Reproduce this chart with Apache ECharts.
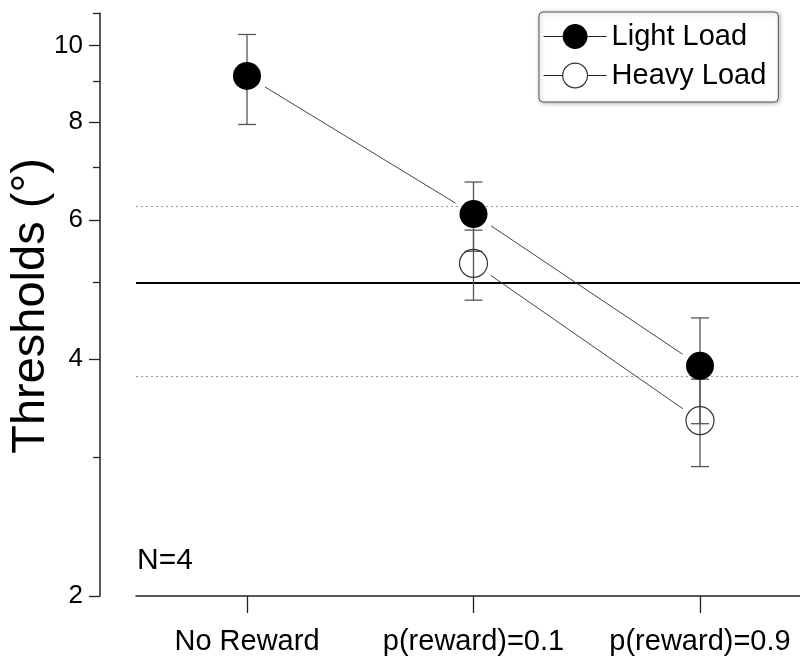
<!DOCTYPE html>
<html>
<head>
<meta charset="utf-8">
<script src="https://cdn.jsdelivr.net/npm/echarts@6/dist/echarts.min.js"></script>
<style>html,body{margin:0;padding:0;background:#fff}#chart{width:800px;height:657px}</style>
</head>
<body>
<div id="chart"></div>
<script>
// ---- data ----
const categories = ['No Reward', 'p(reward)=0.1', 'p(reward)=0.9'];
const lightMean = [9.15, 6.11, 3.92];
const lightLow  = [7.94, 5.48, 3.31];
const lightHigh = [10.33, 6.71, 4.51];
const heavyMean = [null, 5.29, 3.34];
const heavyLow  = [null, 4.75, 2.92];
const heavyHigh = [null, 5.83, 3.77];
const yMajorTicks = [2, 4, 6, 8, 10];
const yMinorTicks = [3, 5, 7, 9, 11];
const yRange = [2, 11];
const refSolid = [5];
const refDotted = [6.25, 3.80];
const sampleNote = 'N=4';
const yTitle = 'Thresholds (°)';

const FONT = '"Liberation Sans", Arial, Helvetica, sans-serif';

function points(mean) {
  const out = [];
  mean.forEach((v, i) => { if (v != null) out.push([i, v]); });
  return out;
}
function segments(mean) {
  const pts = points(mean), out = [];
  for (let i = 0; i + 1 < pts.length; i++) out.push([pts[i][0], pts[i][1], pts[i + 1][0], pts[i + 1][1]]);
  return out;
}
function bars(low, high) {
  const out = [];
  low.forEach((v, i) => { if (v != null) out.push([i, v, high[i]]); });
  return out;
}

function connectorItem(params, api) {
  const a = api.coord([api.value(0), api.value(1)]);
  const b = api.coord([api.value(2), api.value(3)]);
  const dx = b[0] - a[0], dy = b[1] - a[1], L = Math.hypot(dx, dy), g = 21;
  return {
    type: 'line',
    shape: { x1: a[0] + dx / L * g, y1: a[1] + dy / L * g, x2: b[0] - dx / L * g, y2: b[1] - dy / L * g },
    style: { stroke: '#444', lineWidth: 1 }
  };
}
function errorItem(params, api) {
  const x = api.value(0);
  const top = api.coord([x, api.value(2)]);
  const bot = api.coord([x, api.value(1)]);
  const hw = 9;
  const st = { stroke: '#555', lineWidth: 1.3 };
  return {
    type: 'group',
    children: [
      { type: 'line', shape: { x1: top[0], y1: top[1], x2: bot[0], y2: bot[1] }, style: st },
      { type: 'line', shape: { x1: top[0] - hw, y1: top[1], x2: top[0] + hw, y2: top[1] }, style: st },
      { type: 'line', shape: { x1: bot[0] - hw, y1: bot[1], x2: bot[0] + hw, y2: bot[1] }, style: st }
    ]
  };
}

const lg = v => Math.log10(v);
const axisColor = '#222';

const chart = echarts.init(document.getElementById('chart'), null, { renderer: 'canvas' });
chart.setOption({
  animation: false,
  backgroundColor: '#fff',
  textStyle: { fontFamily: FONT },
  grid: { left: 136, right: 0, top: 13, bottom: 61, containLabel: false, outerBoundsMode: 'none' },
  xAxis: {
    type: 'value', min: -0.49, max: 2.4415,
    splitLine: { show: false },
    axisLine: { show: true, lineStyle: { color: axisColor, width: 1.5 } },
    axisTick: { show: true, customValues: [0, 1, 2], length: 17, lineStyle: { color: axisColor, width: 1.3 } },
    axisLabel: { customValues: [0, 1, 2], formatter: v => categories[Math.round(v)], margin: 31, fontSize: 29, color: '#000', fontFamily: FONT }
  },
  yAxis: [
    { type: 'log', logBase: 10, min: yRange[0], max: yRange[1], show: false },
    {
      type: 'value', position: 'left', offset: 36, min: lg(yRange[0]), max: lg(yRange[1]),
      splitLine: { show: false },
      axisLine: { show: true, lineStyle: { color: axisColor, width: 1.5 } },
      axisTick: { show: true, customValues: yMajorTicks.map(lg), length: 11, lineStyle: { color: axisColor, width: 1.3 } },
      axisLabel: { customValues: yMajorTicks.map(lg), formatter: v => String(Math.round(Math.pow(10, v))), margin: 17, fontSize: 26, color: '#000', fontFamily: FONT }
    },
    {
      type: 'value', position: 'left', offset: 36, min: lg(yRange[0]), max: lg(yRange[1]),
      splitLine: { show: false },
      axisLine: { show: false },
      axisTick: { show: true, customValues: yMinorTicks.map(lg), length: 7, lineStyle: { color: axisColor, width: 1.3 } },
      axisLabel: { show: false }
    }
  ],
  legend: {
    orient: 'vertical', left: 539, top: 12,
    padding: [10, 12, 12, 4],
    itemWidth: 63, itemHeight: 31, itemGap: 10,
    backgroundColor: '#fff', borderColor: '#555', borderWidth: 1, borderRadius: 4,
    shadowBlur: 4, shadowColor: 'rgba(0,0,0,0.3)', shadowOffsetX: 1, shadowOffsetY: 1,
    textStyle: { fontSize: 29, color: '#000', fontFamily: FONT },
    lineStyle: { color: '#222', width: 1.2, opacity: 1, type: 'solid' },
    selectedMode: false,
    data: [
      { name: 'Light Load' },
      { name: 'Heavy Load', itemStyle: { color: '#fff', borderColor: '#333', borderWidth: 1.2 } }
    ]
  },
  graphic: [
    { type: 'text', x: 31, y: 306, rotation: Math.PI / 2,
      style: { text: yTitle, fontSize: 47, fontFamily: FONT, fill: '#000', align: 'center', verticalAlign: 'middle' } },
    { type: 'text', x: 137, y: 561,
      style: { text: sampleNote, fontSize: 30, fontFamily: FONT, fill: '#000', align: 'left', verticalAlign: 'middle' } }
  ],
  series: [
    {
      type: 'custom', name: 'light-connect', yAxisIndex: 0, z: 2, silent: true,
      encode: { x: [0, 2], y: [1, 3] }, renderItem: connectorItem, data: segments(lightMean)
    },
    {
      type: 'custom', name: 'heavy-connect', yAxisIndex: 0, z: 2, silent: true,
      encode: { x: [0, 2], y: [1, 3] }, renderItem: connectorItem, data: segments(heavyMean)
    },
    {
      type: 'custom', name: 'light-err', yAxisIndex: 0, z: 3, silent: true,
      encode: { x: 0, y: [1, 2] }, renderItem: errorItem, data: bars(lightLow, lightHigh)
    },
    {
      type: 'custom', name: 'heavy-err', yAxisIndex: 0, z: 3, silent: true,
      encode: { x: 0, y: [1, 2] }, renderItem: errorItem, data: bars(heavyLow, heavyHigh)
    },
    {
      type: 'line', name: 'Light Load', yAxisIndex: 0, z: 4,
      symbol: 'circle', symbolSize: 28, showSymbol: true,
      lineStyle: { width: 0, opacity: 0 },
      itemStyle: { color: '#000', borderWidth: 0 },
      data: points(lightMean),
      markLine: {
        silent: true, symbol: 'none', label: { show: false }, z: 1,
        data: [
          ...refSolid.map(v => ({ yAxis: v, lineStyle: { color: '#000', width: 2, type: 'solid' } })),
          ...refDotted.map(v => ({ yAxis: v, lineStyle: { color: '#999', width: 1, type: [2, 3] } }))
        ]
      }
    },
    {
      type: 'line', name: 'Heavy Load', yAxisIndex: 0, z: 4,
      symbol: 'circle', symbolSize: 28, showSymbol: true,
      lineStyle: { width: 0, opacity: 0 },
      itemStyle: { color: 'rgba(0,0,0,0)', borderColor: '#333', borderWidth: 1.2 },
      data: points(heavyMean)
    }
  ]
});
</script>
</body>
</html>
